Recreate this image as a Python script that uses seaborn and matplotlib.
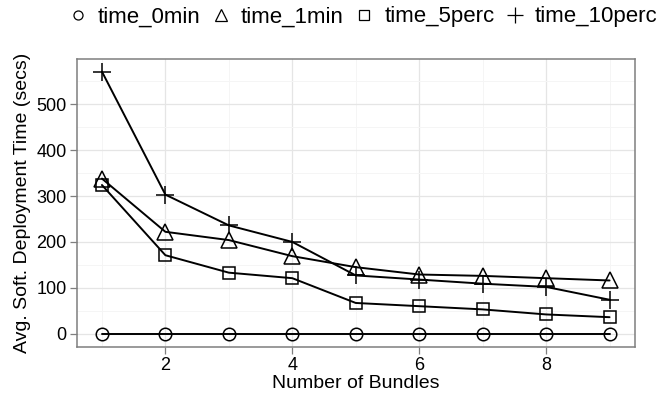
import numpy as np
import pandas as pd
import matplotlib
matplotlib.use('Agg')
import matplotlib.pyplot as plt
from matplotlib.lines import Line2D
from matplotlib.ticker import MultipleLocator
import seaborn as sns

bundles = [1, 2, 3, 4, 5, 6, 7, 8, 9]
time_0min = [0, 0, 0, 0, 0, 0, 0, 0, 0]
time_1min = [338, 222, 204, 169, 145, 129, 126, 121, 116]
time_5perc = [324, 171, 133, 121, 67, 60, 53, 42, 36]
time_10perc = [571, 303, 236, 200, 127, 118, 109, 102, 74]

series = ['time_0min', 'time_1min', 'time_5perc', 'time_10perc']
df = pd.DataFrame({'bundles': bundles, 'time_0min': time_0min, 'time_1min': time_1min,
                   'time_5perc': time_5perc, 'time_10perc': time_10perc})
df = df.melt(id_vars='bundles', var_name='variable', value_name='secs')

sns.set_theme(style='white')
plt.rcParams['font.family'] = ['Liberation Sans', 'DejaVu Sans']
plt.rcParams['text.color'] = 'black'
plt.rcParams['axes.labelcolor'] = 'black'

# marker, size in plot, size in legend (ggplot shapes 1,2,0,3)
shapes = {'time_0min': ('o', 9, 6.5), 'time_1min': ('^', 11, 9),
          'time_5perc': ('s', 9, 7), 'time_10perc': ('+', 12.5, 12)}

fig = plt.figure(figsize=(6.6, 4), dpi=100)
ax = fig.add_axes([0.116, 0.133, 0.846, 0.7195])

for name in series:
    m, ms, _ = shapes[name]
    sns.lineplot(data=df[df.variable == name], x='bundles', y='secs', ax=ax, color='black',
                 linewidth=1.4, marker=m, markersize=ms, markerfacecolor='none',
                 markeredgecolor='black', markeredgewidth=1.1, legend=False, zorder=3)

ax.set_xlim(0.6, 9.4)
ax.set_ylim(-28.5, 598.5)
ax.xaxis.set_major_locator(MultipleLocator(2))
ax.xaxis.set_minor_locator(MultipleLocator(1))
ax.yaxis.set_major_locator(MultipleLocator(100))
ax.yaxis.set_minor_locator(MultipleLocator(50))
ax.grid(which='major', color='#e5e5e5', linewidth=0.9)
ax.grid(which='minor', color='#f5f5f5', linewidth=0.7)
ax.set_axisbelow(True)
for sp in ax.spines.values():
    sp.set_color('#7f7f7f')
    sp.set_linewidth(1.1)
ax.tick_params(which='major', direction='out', length=5, width=0.9, color='#7f7f7f',
               labelsize=13, labelcolor='black', pad=2, left=True, bottom=True)
ax.tick_params(which='minor', length=0)
ax.set_xlabel('Number of Bundles', fontsize=14, labelpad=1)
ax.set_ylabel('Avg. Soft. Deployment Time (secs)', fontsize=14, labelpad=4)

handles = [Line2D([], [], linestyle='none', marker=shapes[n][0], markersize=shapes[n][2],
                  markerfacecolor='none', markeredgecolor='black', markeredgewidth=0.9)
           for n in series]
fig.legend(handles, series, loc='center', bbox_to_anchor=(0.549, 0.958), ncol=4, frameon=False,
           fontsize=16, handlelength=1.0, handletextpad=0.4, columnspacing=0.42, borderaxespad=0,
           borderpad=0)

fig.savefig('out.png', dpi=100)
